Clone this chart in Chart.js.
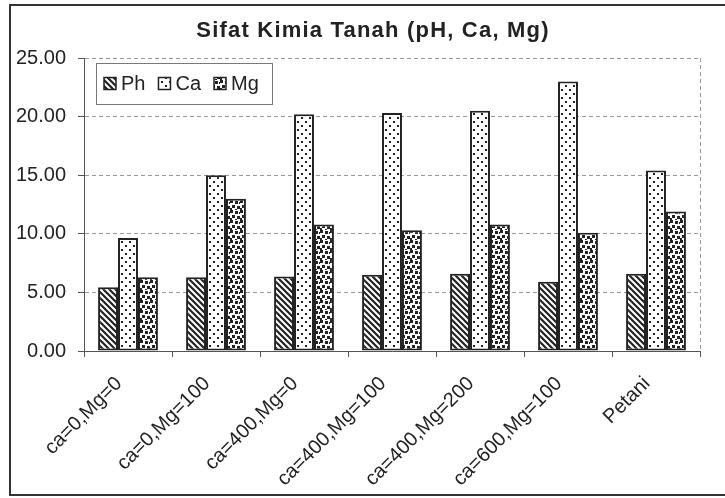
<!DOCTYPE html>
<html>
<head>
<meta charset="utf-8">
<script src="https://cdn.jsdelivr.net/npm/chart.js@4.4.1/dist/chart.umd.min.js"></script>
<style>
  html, body { margin: 0; padding: 0; background: #fff; }
  #wrap { width: 725px; height: 498px; }
</style>
</head>
<body>
<div id="wrap"><canvas id="chartKimia" width="725" height="498"></canvas></div>
<script>
// Data
const chartTitle = 'Sifat Kimia Tanah (pH, Ca, Mg)';
const categories = ['ca=0,Mg=0', 'ca=0,Mg=100', 'ca=400,Mg=0', 'ca=400,Mg=100', 'ca=400,Mg=200', 'ca=600,Mg=100', 'Petani'];
const seriesNames = ['Ph', 'Ca', 'Mg'];
const phValues = [5.45, 6.3, 6.35, 6.5, 6.6, 5.9, 6.6];
const caValues = [9.65, 15.0, 20.2, 20.3, 20.5, 23.0, 15.4];
const mgValues = [6.3, 13.0, 10.8, 10.3, 10.8, 10.1, 11.9];
const yTicks = [0, 5, 10, 15, 20, 25];

const INK = '#222';
const FONT = "'Liberation Sans', Arial, sans-serif";

// Pola isi batang (hitam-putih seperti cetakan)
function makePattern(size, draw) {
    const c = document.createElement('canvas');
    c.width = size;
    c.height = size;
    const g = c.getContext('2d');
    g.fillStyle = '#fff';
    g.fillRect(0, 0, size, size);
    g.fillStyle = INK;
    g.strokeStyle = INK;
    draw(g, size);
    return document.getElementById('chartKimia').getContext('2d').createPattern(c, 'repeat');
}

const patPh = makePattern(6, (g, s) => {
    g.lineWidth = 2.2;
    g.beginPath();
    g.moveTo(-1, -1); g.lineTo(s + 1, s + 1);
    g.moveTo(-1, s - 1); g.lineTo(1, s + 1);
    g.moveTo(s - 1, -1); g.lineTo(s + 1, 1);
    g.stroke();
});

const patCa = makePattern(8, (g) => {
    g.fillRect(1, 1, 2, 2);
    g.fillRect(5, 5, 2, 2);
});

// bintik kotak gelap yang agak acak
const patMg = makePattern(10, (g) => {
    g.fillRect(0, 0, 3, 3);
    g.fillRect(5, 1, 3, 3);
    g.fillRect(2, 5, 3, 3);
    g.fillRect(7, 6, 3, 3);
    g.fillRect(0, 8, 2, 2);
    g.fillRect(9, 2, 1, 2);
    g.fillRect(5, 9, 2, 1);
});

const fills = [patPh, patCa, patMg];
const values = [phValues, caValues, mgValues];

// Judul, bingkai luar, garis tepi area plot, dan legenda di dalam plot
const decorPlugin = {
    id: 'decor',
    afterDraw(chart) {
        const ctx = chart.ctx;
        const a = chart.chartArea;
        ctx.save();

        // judul (dengan jarak huruf sedikit lebar)
        ctx.fillStyle = INK;
        ctx.font = 'bold 22px ' + FONT;
        ctx.letterSpacing = '1.2px';
        ctx.textAlign = 'center';
        ctx.textBaseline = 'alphabetic';
        ctx.fillText(chartTitle, 373, 37);
        ctx.letterSpacing = '0px';

        // bingkai luar
        ctx.strokeStyle = '#333';
        ctx.lineWidth = 2;
        ctx.strokeRect(10, 5, 740, 490);

        // garis kanan area plot (putus-putus)
        ctx.strokeStyle = '#999';
        ctx.lineWidth = 1;
        ctx.setLineDash([4, 3]);
        ctx.beginPath();
        ctx.moveTo(a.right + 0.5, a.top);
        ctx.lineTo(a.right + 0.5, a.bottom);
        ctx.stroke();
        ctx.setLineDash([]);

        // legenda
        const bx = 96, by = 63, bw = 176, bh = 41;
        ctx.fillStyle = '#fff';
        ctx.fillRect(bx, by, bw, bh);
        ctx.strokeStyle = '#777';
        ctx.lineWidth = 1;
        ctx.strokeRect(bx + 0.5, by + 0.5, bw, bh);

        ctx.font = '20px ' + FONT;
        ctx.textBaseline = 'middle';
        ctx.textAlign = 'left';
        const cy = by + bh / 2;
        let x = bx + 8;
        chart.data.datasets.forEach((ds) => {
            ctx.fillStyle = ds.backgroundColor;
            ctx.fillRect(x, cy - 6, 12, 12);
            ctx.strokeStyle = INK;
            ctx.lineWidth = 1.5;
            ctx.strokeRect(x, cy - 6, 12, 12);
            ctx.fillStyle = INK;
            ctx.fillText(ds.label, x + 17, cy + 1);
            x += 17 + ctx.measureText(ds.label).width + 13;
        });
        ctx.restore();
    }
};

const ctx = document.getElementById('chartKimia').getContext('2d');

const chartKimia = new Chart(ctx, {
    type: 'bar',
    data: {
        labels: categories,
        datasets: seriesNames.map((name, i) => ({
            label: name,
            data: values[i],
            backgroundColor: fills[i],
            borderColor: INK,
            borderWidth: 2,
            borderSkipped: false,
            categoryPercentage: 0.68,
            barPercentage: 1.0
        }))
    },
    options: {
        responsive: false,
        animation: false,
        devicePixelRatio: 1,
        layout: {
            padding: { left: 10, right: 25, top: 58, bottom: 0 }
        },
        plugins: {
            legend: { display: false },
            tooltip: { enabled: false },
            title: { display: false }
        },
        scales: {
            x: {
                grid: {
                    offset: true,
                    drawOnChartArea: false,
                    drawTicks: true,
                    tickLength: 6,
                    color: '#555'
                },
                border: { display: true, color: '#555', width: 1 },
                ticks: {
                    color: INK,
                    font: { family: FONT, size: 20 },
                    minRotation: 45,
                    maxRotation: 45,
                    padding: 15,
                    labelOffset: -9
                },
                afterFit(scale) { scale.height = 147; }
            },
            y: {
                min: 0,
                max: 25,
                afterBuildTicks(scale) { scale.ticks = yTicks.map(v => ({ value: v })); },
                grid: {
                    color: '#999',
                    tickLength: 6,
                    tickColor: '#555'
                },
                // pada Chart.js v4, border.dash mengatur garis grid putus-putus
                border: { display: true, color: '#555', width: 1, dash: [4, 3] },
                ticks: {
                    color: INK,
                    font: { family: FONT, size: 20 },
                    padding: 12,
                    callback: (v) => Number(v).toFixed(2)
                },
                afterFit(scale) { scale.width = 74; }
            }
        }
    },
    plugins: [decorPlugin]
});
</script>
</body>
</html>
